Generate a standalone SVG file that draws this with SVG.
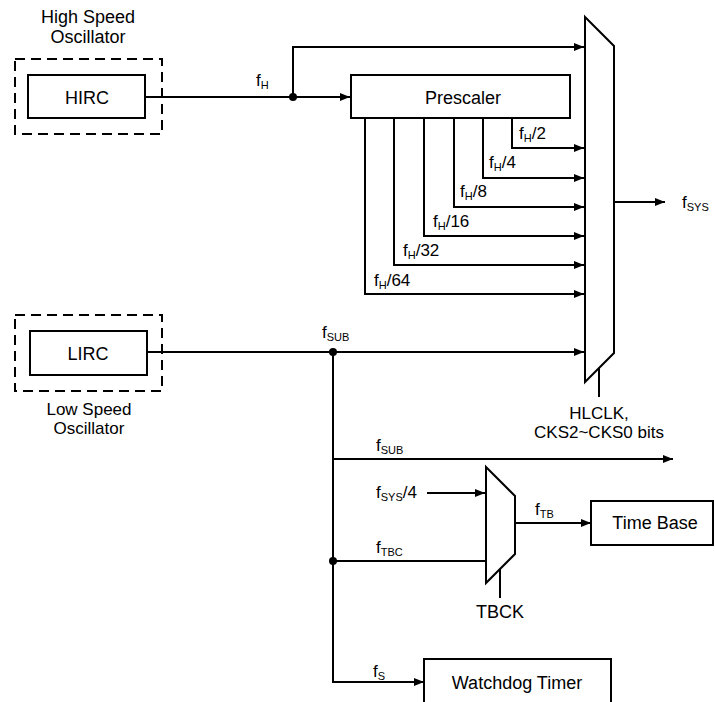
<svg xmlns="http://www.w3.org/2000/svg" width="715" height="702" viewBox="0 0 715 702">
<defs>
<marker id="arr" markerUnits="userSpaceOnUse" markerWidth="11" markerHeight="9" refX="10" refY="4" orient="auto">
<path d="M0,0 L10,4 L0,8 z" fill="#000"/>
</marker>
<style>
text{font-family:"Liberation Sans",Arial,sans-serif;fill:#000}
.t{font-size:17px}
.b{font-size:18px;text-anchor:middle}
.c{font-size:17px;text-anchor:middle}
.s{font-size:11px}
.box{fill:#fff;stroke:#000;stroke-width:2}
.dash{fill:none;stroke:#000;stroke-width:2;stroke-dasharray:10,6}
.w{fill:none;stroke:#000;stroke-width:2}
.a{marker-end:url(#arr)}
</style>
</defs>
<rect width="715" height="702" fill="#fff"/>

<g id="connectors">
<path class="w a" d="M145,97 H350"/>
<path class="w a" d="M293,97 V47 H584"/>
<path class="w a" d="M365,118 V294 H584"/>
<path class="w a" d="M394,118 V265 H584"/>
<path class="w a" d="M424,118 V236 H584"/>
<path class="w a" d="M454,118 V207 H584"/>
<path class="w a" d="M483,118 V178 H584"/>
<path class="w a" d="M512,118 V148 H584"/>
<path class="w a" d="M614,202 H665"/>
<path class="w a" d="M147,352 H584"/>
<path class="w a" d="M333,352 V682 H424"/>
<path class="w a" d="M333,459 H673"/>
<path class="w" d="M333,561 H486"/>
<path class="w a" d="M427,493 H485"/>
<path class="w a" d="M515,523 H591"/>
<path class="w" d="M500,569 V598"/>
<path class="w" d="M599,368 V397"/>
<circle cx="293" cy="97" r="4" fill="#000"/>
<circle cx="333" cy="352" r="4" fill="#000"/>
<circle cx="333" cy="561" r="4" fill="#000"/>
<text class="t" x="256" y="86">f<tspan class="s" dy="3">H</tspan></text>
<text class="t" x="519" y="139">f<tspan class="s" dy="3">H</tspan><tspan dy="-3">/2</tspan></text>
<text class="t" x="489" y="168">f<tspan class="s" dy="3">H</tspan><tspan dy="-3">/4</tspan></text>
<text class="t" x="460" y="197">f<tspan class="s" dy="3">H</tspan><tspan dy="-3">/8</tspan></text>
<text class="t" x="433" y="227">f<tspan class="s" dy="3">H</tspan><tspan dy="-3">/16</tspan></text>
<text class="t" x="403" y="256">f<tspan class="s" dy="3">H</tspan><tspan dy="-3">/32</tspan></text>
<text class="t" x="374" y="286">f<tspan class="s" dy="3">H</tspan><tspan dy="-3">/64</tspan></text>
<text class="t" x="682" y="208">f<tspan class="s" dy="3">SYS</tspan></text>
<text class="t" x="322" y="338">f<tspan class="s" dy="3">SUB</tspan></text>
<text class="t" x="376" y="451">f<tspan class="s" dy="3">SUB</tspan></text>
<text class="t" x="376" y="498">f<tspan class="s" dy="3">SYS</tspan><tspan dy="-3">/4</tspan></text>
<text class="t" x="376" y="553">f<tspan class="s" dy="3">TBC</tspan></text>
<text class="t" x="535" y="515">f<tspan class="s" dy="3">TB</tspan></text>
<text class="t" x="373" y="677">f<tspan class="s" dy="3">S</tspan></text>
</g>

<g id="hso">
<rect class="dash" x="15" y="59" width="147" height="75"/>
<text class="b" x="88" y="23">High Speed</text>
<text class="b" x="88" y="43">Oscillator</text>
</g>
<g id="hirc">
<rect class="box" x="28" y="75" width="117" height="43"/>
<text class="b" x="87" y="104">HIRC</text>
</g>
<g id="lso">
<rect class="dash" x="15" y="315" width="147" height="76"/>
<text class="c" x="89" y="415">Low Speed</text>
<text class="c" x="89" y="434">Oscillator</text>
</g>
<g id="lirc">
<rect class="box" x="30" y="331" width="117" height="44"/>
<text class="b" x="88" y="360">LIRC</text>
</g>
<g id="prescaler">
<rect class="box" x="351" y="75" width="219" height="43"/>
<text class="b" x="463" y="104">Prescaler</text>
</g>
<g id="sysmux">
<polygon class="box" points="585,17 614,46 614,353 585,382"/>
<text class="c" x="599" y="419">HLCLK,</text>
<text class="c" x="599" y="438">CKS2~CKS0 bits</text>
</g>
<g id="tbmux">
<polygon class="box" points="486,467 515,496 515,554 486,583"/>
<text class="b" x="500" y="618">TBCK</text>
</g>
<g id="timebase">
<rect class="box" x="591" y="501" width="122" height="44"/>
<text class="b" x="655" y="529">Time Base</text>
</g>
<g id="wdt">
<rect class="box" x="424" y="659" width="187" height="55"/>
<text class="b" x="517" y="689">Watchdog Timer</text>
</g>
</svg>
